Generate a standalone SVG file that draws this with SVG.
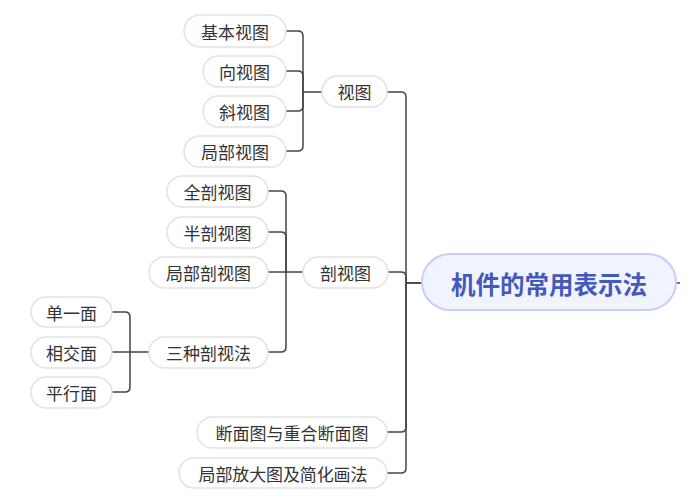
<svg xmlns="http://www.w3.org/2000/svg" width="696" height="499" viewBox="0 0 696 499">
<style>
.n rect{fill:#fff;stroke:#e2e2e2;stroke-width:1.5}
.n text{font-family:"Noto Sans CJK SC","Noto Sans",sans-serif;font-size:17px;fill:#333;text-anchor:middle;dominant-baseline:central}
.c path{fill:none;stroke:#444;stroke-width:1.5}
</style>
<rect width="696" height="499" fill="#fff"/>
<g class="c">
<path d="M422,283 H406 V97 Q406,92 401,92 H387"/>
<path d="M422,283 H406 V277 Q406,272 401,272 H388"/>
<path d="M406,283 V427 Q406,432 401,432 H387"/>
<path d="M406,283 V468 Q406,473 401,473 H387"/>
<path d="M676,283 H680"/>
<path d="M322,92 H303 V36 Q303,31 298,31 H286"/>
<path d="M303,92 V76 Q303,71 298,71 H286"/>
<path d="M303,92 V106 Q303,111 298,111 H286"/>
<path d="M303,92 V146 Q303,151 298,151 H286"/>
<path d="M303,272 H286 V196 Q286,191 281,191 H268"/>
<path d="M286,272 V237 Q286,232 281,232 H268"/>
<path d="M286,272 H268"/>
<path d="M286,272 V347 Q286,352 281,352 H268"/>
<path d="M149,352 H130 V317 Q130,312 125,312 H112"/>
<path d="M130,352 H112"/>
<path d="M130,352 V387 Q130,392 125,392 H112"/>
</g>
<g id="root">
<rect x="422" y="254" width="254" height="56" rx="28" fill="#f1f3fe" stroke="#c7cff6" stroke-width="2"/>
<text x="549" y="283" font-family="'Noto Sans CJK SC','Noto Sans',sans-serif" font-size="24.5" font-weight="bold" fill="#4459bd" text-anchor="middle" dominant-baseline="central">机件的常用表示法</text>
</g>
<g id="n-shitu" class="n"><rect x="322" y="76" width="65" height="31" rx="15.5"/><text x="354.5" y="91.5">视图</text></g>
<g id="n-poushitu" class="n"><rect x="303" y="257" width="85" height="31" rx="15.5"/><text x="345.5" y="272.5">剖视图</text></g>
<g id="n-duanmian" class="n"><rect x="197" y="417" width="190" height="31" rx="15.5"/><text x="292" y="432.5">断面图与重合断面图</text></g>
<g id="n-fangda" class="n"><rect x="179" y="458" width="208" height="30" rx="15"/><text x="283" y="473" textLength="169">局部放大图及简化画法</text></g>
<g id="n-jiben" class="n"><rect x="184" y="15" width="102" height="32" rx="16"/><text x="235" y="31">基本视图</text></g>
<g id="n-xiang" class="n"><rect x="203" y="56" width="83" height="31" rx="15.5"/><text x="244.5" y="71.5">向视图</text></g>
<g id="n-xie" class="n"><rect x="203" y="96" width="83" height="31" rx="15.5"/><text x="244.5" y="111.5">斜视图</text></g>
<g id="n-jubu" class="n"><rect x="184" y="136" width="102" height="31" rx="15.5"/><text x="235" y="151.5">局部视图</text></g>
<g id="n-quanpou" class="n"><rect x="167" y="176" width="101" height="31" rx="15.5"/><text x="217.5" y="191.5">全剖视图</text></g>
<g id="n-banpou" class="n"><rect x="167" y="217" width="101" height="31" rx="15.5"/><text x="217.5" y="232.5">半剖视图</text></g>
<g id="n-jubupou" class="n"><rect x="149" y="257" width="119" height="31" rx="15.5"/><text x="208.5" y="272.5">局部剖视图</text></g>
<g id="n-sanzhong" class="n"><rect x="149" y="337" width="119" height="31" rx="15.5"/><text x="208.5" y="352.5">三种剖视法</text></g>
<g id="n-danyi" class="n"><rect x="31" y="297" width="81" height="30" rx="15"/><text x="71.5" y="312">单一面</text></g>
<g id="n-xiangjiao" class="n"><rect x="31" y="337" width="81" height="31" rx="15.5"/><text x="71.5" y="352.5">相交面</text></g>
<g id="n-pingxing" class="n"><rect x="31" y="377" width="81" height="31" rx="15.5"/><text x="71.5" y="392.5">平行面</text></g>
</svg>
